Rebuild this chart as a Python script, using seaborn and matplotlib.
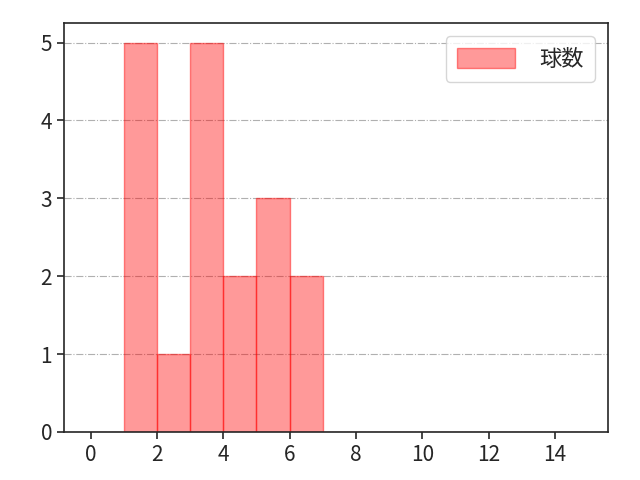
import numpy as np
import pandas as pd
import seaborn as sns
import matplotlib.pyplot as plt

# pitches per plate appearance
pitch_counts = [1, 1, 1, 1, 1, 2, 3, 3, 3, 3, 3, 4, 4, 5, 5, 5, 6, 6]
bin_edges = list(range(0, 16))
series_label = "球数"

sns.set_style("ticks")
plt.rcParams['font.family'] = ['Noto Sans CJK JP', 'DejaVu Sans']

df = pd.DataFrame({series_label: pitch_counts})

fig, ax = plt.subplots(figsize=(6.4, 4.8), dpi=100)
sns.histplot(data=df, x=series_label, bins=bin_edges, ax=ax,
             color="#ff0000", alpha=0.4, edgecolor=(1, 0, 0, 0.45), linewidth=1.0,
             label=series_label)

ax.set_xlim(-0.8, 15.6)
ax.set_ylim(0, 5.25)
ax.set_xticks(range(0, 15, 2))
ax.set_yticks(range(0, 6))
ax.set_xlabel("")
ax.set_ylabel("")
ax.tick_params(labelsize=15, length=5, width=1.2)
ax.grid(axis="y", linestyle="-.", color="#b0b0b0", linewidth=0.8)
ax.set_axisbelow(True)
for s in ax.spines.values():
    s.set_linewidth(1.2)
ax.legend(loc="upper right", fontsize=16, handlelength=2.6, handleheight=1.0,
          handletextpad=1.1, borderpad=0.5, borderaxespad=0.6)

fig.subplots_adjust(left=0.1, right=0.95, top=0.952, bottom=0.1)
fig.savefig("out.png", dpi=100)
